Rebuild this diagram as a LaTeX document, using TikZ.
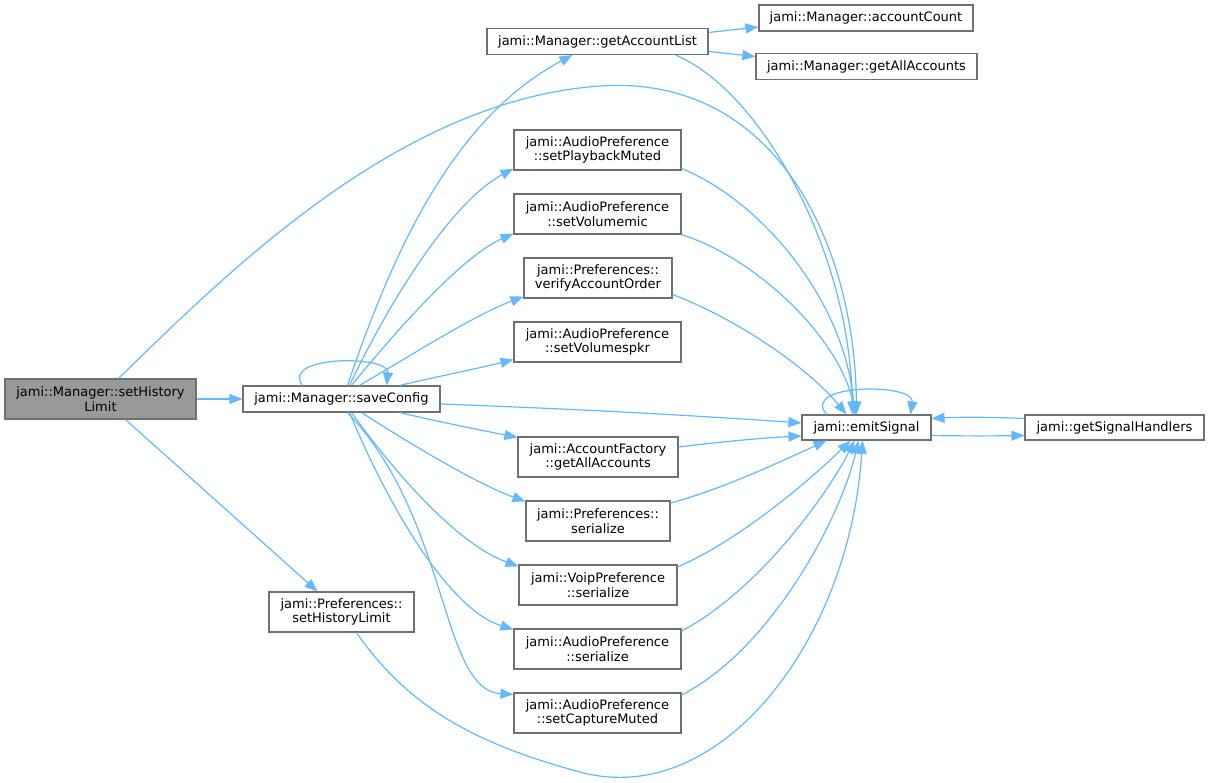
\documentclass[tikz,border=0pt]{standalone}
\usepackage{fontspec}
\setmainfont{DejaVu Sans}
\usetikzlibrary{arrows.meta}
\definecolor{edgecol}{HTML}{63B8FF}
\definecolor{boxline}{HTML}{707070}
\definecolor{grayfill}{HTML}{999999}
\tikzset{
  fn/.style={draw=boxline, line width=1.1pt, fill=white, inner sep=0pt, align=center,
    font=\fontsize{13}{14.5}\selectfont, text=black},
  one/.style={minimum height=26pt},
  two/.style={minimum height=40pt},
  call/.style={draw=edgecol, line width=1.2pt, -{Triangle[length=13pt,width=10pt]}},
}
\begin{document}
\begin{tikzpicture}[x=1pt,y=-1pt]
\useasboundingbox (0,0) rectangle (1209,783);
% nodes
\node[fn,two,fill=grayfill,minimum width=191pt] (shl) at (100.5,399) {jami::Manager::setHistory\\Limit};
\node[fn,one,minimum width=197pt] (sc) at (341.5,399) {jami::Manager::saveConfig};
\node[fn,one,minimum width=221pt] (gal) at (597.5,41.5) {jami::Manager::getAccountList};
\node[fn,one,minimum width=214pt] (ac) at (866,18) {jami::Manager::accountCount};
\node[fn,one,minimum width=221pt] (gaa) at (866.5,66.5) {jami::Manager::getAllAccounts};
\node[fn,two,minimum width=167pt] (spm) at (597.5,150) {jami::AudioPreference\\::setPlaybackMuted};
\node[fn,two,minimum width=167pt] (svm) at (597.5,214) {jami::AudioPreference\\::setVolumemic};
\node[fn,two,minimum width=148pt] (vao) at (598,278) {jami::Preferences::\\verifyAccountOrder};
\node[fn,two,minimum width=167pt] (svs) at (597.5,342) {jami::AudioPreference\\::setVolumespkr};
\node[fn,two,minimum width=160pt] (afg) at (598,457) {jami::AccountFactory\\::getAllAccounts};
\node[fn,two,minimum width=144pt] (ps) at (598,521) {jami::Preferences::\\serialize};
\node[fn,two,minimum width=158pt] (vps) at (598,585) {jami::VoipPreference\\::serialize};
\node[fn,two,minimum width=167pt] (aps) at (597.5,649) {jami::AudioPreference\\::serialize};
\node[fn,two,minimum width=167pt] (scm) at (597.5,713) {jami::AudioPreference\\::setCaptureMuted};
\node[fn,one,minimum width=129pt,minimum height=25pt] (es) at (866.5,427.5) {jami::emitSignal};
\node[fn,one,minimum width=179pt,minimum height=25pt] (gsh) at (1114.5,427.5) {jami::getSignalHandlers};
\node[fn,two,minimum width=145pt] (pshl) at (341.5,612) {jami::Preferences::\\setHistoryLimit};

% edges from setHistoryLimit
\draw[call] (shl.east) -- (sc.west);
\draw[call] ([shift={(18,0)}]shl.north) .. controls (230,270) and (400,100) .. (600,86)
  .. controls (780,74) and (855,250) .. ([shift={(-10,0)}]es.north);
\draw[call] ([shift={(25,0)}]shl.south) -- ([shift={(-24,0)}]pshl.north);

% edges from saveConfig
\draw[call] ([shift={(-39,0)}]sc.north) .. controls (280,355) and (390,355) .. ([shift={(45,0)}]sc.north);
\draw[call] ([shift={(6,0)}]sc.north) .. controls (390,260) and (450,120) .. ([shift={(-25,0)}]gal.south);
\draw[call] ([shift={(8,0)}]sc.north) .. controls (395,290) and (455,200) .. ([shift={(0,-2)}]spm.south west);
\draw[call] ([shift={(10,0)}]sc.north) .. controls (405,320) and (465,255) .. ([shift={(0,-1)}]svm.south west);
\draw[call] ([shift={(18,0)}]sc.north) .. controls (420,350) and (475,315) .. ([shift={(0,-2)}]vao.south west);
\draw[call] ([shift={(58,0)}]sc.north) .. controls (440,376) and (480,368) .. ([shift={(0,-3)}]svs.south west);
\draw[call] ([shift={(0,5)}]sc.east) .. controls (600,410) and (700,416) .. ([shift={(0,-4.5)}]es.west);
\draw[call] ([shift={(58,0)}]sc.south) .. controls (440,422) and (480,430) .. ([shift={(0,1)}]afg.north west);
\draw[call] ([shift={(20,0)}]sc.south) .. controls (420,450) and (480,485) .. ([shift={(0,1)}]ps.north west);
\draw[call] ([shift={(10,0)}]sc.south) .. controls (400,480) and (460,545) .. ([shift={(0,2)}]vps.north west);
\draw[call] ([shift={(8,0)}]sc.south) .. controls (390,510) and (450,610) .. ([shift={(0,1)}]aps.north west);
\draw[call] ([shift={(6,0)}]sc.south) .. controls (450,520) and (440,690) .. ([shift={(0,2)}]scm.north west);

% getAccountList
\draw[call] ([shift={(0,-9)}]gal.east) -- ([shift={(0,9)}]ac.west);
\draw[call] ([shift={(0,10)}]gal.east) -- ([shift={(0,-10)}]gaa.west);
\draw[call] ([shift={(78,0)}]gal.south) .. controls (760,90) and (850,250) .. ([shift={(-14,0)}]es.north);

% middle column to emitSignal
\draw[call] ([shift={(0,-2)}]spm.south east) .. controls (760,200) and (845,300) .. ([shift={(-12,0)}]es.north);
\draw[call] (svm.south east) .. controls (760,260) and (840,340) .. ([shift={(-11,0)}]es.north);
\draw[call] ([shift={(0,-4)}]vao.south east) .. controls (740,320) and (810,370) .. ([shift={(-20,0)}]es.north);
\draw[call] ([shift={(0,-10)}]afg.east) .. controls (720,442) and (760,438) .. ([shift={(0,8.5)}]es.west);
\draw[call] ([shift={(0,-18)}]ps.east) .. controls (720,490) and (780,462) .. ([shift={(-40,0)}]es.south);
\draw[call] ([shift={(0,-18)}]vps.east) .. controls (740,540) and (810,480) .. ([shift={(-16,0)}]es.south);
\draw[call] ([shift={(0,-18)}]aps.east) .. controls (760,590) and (830,490) .. ([shift={(-12,0)}]es.south);
\draw[call] ([shift={(0,-18)}]scm.east) .. controls (770,650) and (840,520) .. ([shift={(-8,0)}]es.south);
\draw[call] ([shift={(15,0)}]pshl.south) .. controls (410,710) and (480,745) .. (580,772)
  .. controls (720,810) and (850,640) .. ([shift={(-4,0)}]es.south);

% emitSignal
\draw[call] ([shift={(-40,0)}]es.north) .. controls (800,383) and (915,383) .. ([shift={(44,0)}]es.north);
\draw[call] ([shift={(0,8)}]es.east) .. controls (960,436) and (990,436) .. ([shift={(0,8)}]gsh.west);
\draw[call] ([shift={(0,-9)}]gsh.west) .. controls (990,417) and (960,417) .. ([shift={(0,-9)}]es.east);
\end{tikzpicture}
\end{document}
